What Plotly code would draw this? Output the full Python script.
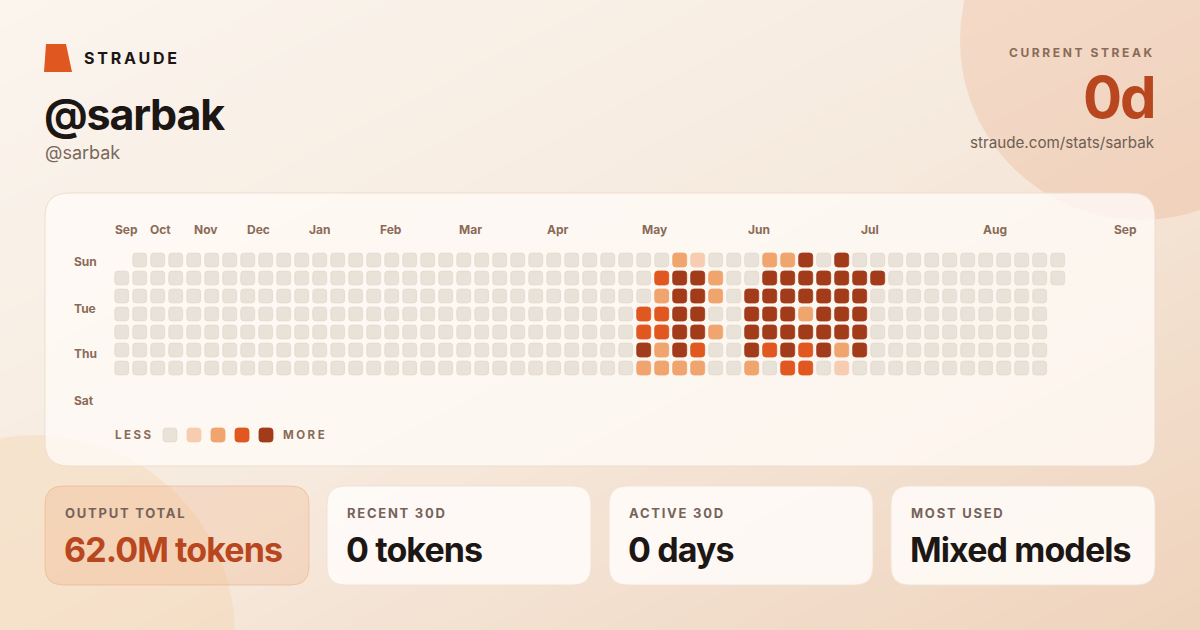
import plotly.graph_objects as go

W, H = 1200, 630

# ---------------- data ----------------
MONTH_LABELS = ["Sep", "Oct", "Nov", "Dec", "Jan", "Feb", "Mar", "Apr", "May", "Jun", "Jul", "Aug", "Sep"]
MONTH_POS = [0.24, 2.16, 4.66, 7.60, 10.99, 14.96, 19.38, 24.24, 29.60, 35.38, 41.55, 48.49, 55.74]
DAY_LABELS = ["Sun", "Tue", "Thu", "Sat"]
DAY_POS = [0.11, 2.67, 5.22, 7.78]

# activity level (0-4) per week column, one list per weekday; None = no day
SUN = [None, 0, 0, 0, 0, 0, 0, 0, 0, 0,
       0, 0, 0, 0, 0, 0, 0, 0, 0, 0,
       0, 0, 0, 0, 0, 0, 0, 0, 0, 0,
       0, 2, 1, 0, 0, 0, 2, 2, 4, 0,
       4, 0, 0, 0, 0, 0, 0, 0, 0, 0,
       0, 0, 0]
MON = [0, 0, 0, 0, 0, 0, 0, 0, 0, 0,
       0, 0, 0, 0, 0, 0, 0, 0, 0, 0,
       0, 0, 0, 0, 0, 0, 0, 0, 0, 0,
       3, 4, 4, 2, 0, 0, 4, 4, 4, 4,
       4, 4, 4, 0, 0, 0, 0, 0, 0, 0,
       0, 0, 0]
TUE = [0, 0, 0, 0, 0, 0, 0, 0, 0, 0,
       0, 0, 0, 0, 0, 0, 0, 0, 0, 0,
       0, 0, 0, 0, 0, 0, 0, 0, 0, 0,
       2, 4, 4, 2, 0, 4, 4, 4, 4, 4,
       4, 4, 0, 0, 0, 0, 0, 0, 0, 0,
       0, 0, None]
WED = [0, 0, 0, 0, 0, 0, 0, 0, 0, 0,
       0, 0, 0, 0, 0, 0, 0, 0, 0, 0,
       0, 0, 0, 0, 0, 0, 0, 0, 0, 3,
       3, 4, 4, 0, 0, 4, 4, 4, 2, 4,
       4, 4, 0, 0, 0, 0, 0, 0, 0, 0,
       0, 0, None]
THU = [0, 0, 0, 0, 0, 0, 0, 0, 0, 0,
       0, 0, 0, 0, 0, 0, 0, 0, 0, 0,
       0, 0, 0, 0, 0, 0, 0, 0, 0, 3,
       3, 4, 4, 2, 0, 4, 4, 4, 4, 4,
       4, 4, 0, 0, 0, 0, 0, 0, 0, 0,
       0, 0, None]
FRI = [0, 0, 0, 0, 0, 0, 0, 0, 0, 0,
       0, 0, 0, 0, 0, 0, 0, 0, 0, 0,
       0, 0, 0, 0, 0, 0, 0, 0, 0, 4,
       2, 4, 3, 0, 0, 4, 3, 4, 3, 4,
       2, 4, 0, 0, 0, 0, 0, 0, 0, 0,
       0, 0, None]
SAT = [0, 0, 0, 0, 0, 0, 0, 0, 0, 0,
       0, 0, 0, 0, 0, 0, 0, 0, 0, 0,
       0, 0, 0, 0, 0, 0, 0, 0, 0, 2,
       2, 2, 2, 0, 0, 2, 0, 3, 3, 0,
       1, 0, 0, 0, 0, 0, 0, 0, 0, 0,
       0, 0, None]
WEEKDAY_ROWS = [SUN, MON, TUE, WED, THU, FRI, SAT]

LEVEL_COLORS = ["#E9E2D8", "#F6CDB0", "#F0A46E", "#E0571F", "#A23B1A"]

STAT_LABELS = ["OUTPUT TOTAL", "RECENT 30D", "ACTIVE 30D", "MOST USED"]
STAT_VALUES = ["62.0M tokens", "0 tokens", "0 days", "Mixed models"]

# ---------------- layout constants ----------------
FONT = "Inter, 'Noto Sans', sans-serif"
COL0_PX, PITCH, ROW0_PY = 121.7, 18.0, 260.0
CELL_HALF = 7.0 / PITCH
CELL_R = 3.2 / PITCH
XR = [-COL0_PX / PITCH, (W - COL0_PX) / PITCH]
YR = [(H - ROW0_PY) / PITCH, -ROW0_PY / PITCH]

INK = "#1C1714"
MUTED = "#8A6B58"
ACCENT = "#B8461F"


def X(px):
    return px / W


def Y(py):
    return 1 - py / H


def rrect_px(x0, y0, x1, y1, r):
    def p(x, y):
        return f"{X(x):.5f},{Y(y):.5f}"
    return (f"M{p(x0 + r, y0)} L{p(x1 - r, y0)} Q{p(x1, y0)} {p(x1, y0 + r)} "
            f"L{p(x1, y1 - r)} Q{p(x1, y1)} {p(x1 - r, y1)} L{p(x0 + r, y1)} "
            f"Q{p(x0, y1)} {p(x0, y1 - r)} L{p(x0, y0 + r)} Q{p(x0, y0)} {p(x0 + r, y0)} Z")


def rrect_data(cx, cy, h, r):
    x0, x1, y0, y1 = cx - h, cx + h, cy - h, cy + h
    def p(x, y):
        return f"{x:.4f},{y:.4f}"
    return (f"M{p(x0 + r, y0)} L{p(x1 - r, y0)} Q{p(x1, y0)} {p(x1, y0 + r)} "
            f"L{p(x1, y1 - r)} Q{p(x1, y1)} {p(x1 - r, y1)} L{p(x0 + r, y1)} "
            f"Q{p(x0, y1)} {p(x0, y1 - r)} L{p(x0, y0 + r)} Q{p(x0, y0)} {p(x0 + r, y0)} Z")


def spaced(t, ls):
    return f'<span style="letter-spacing:{ls}px">{t}</span>'


fig = go.Figure()

# background gradient
fig.add_trace(go.Heatmap(
    x=XR, y=[YR[1], YR[0]], z=[[0, 0.5], [0.5, 1]], zsmooth="best",
    colorscale=[[0, "#FBF5EE"], [0.5, "#F6EADE"], [1, "#EFD3BC"]],
    showscale=False, hoverinfo="skip"))

# hover layer for cells
hx, hy, ht = [], [], []
for r, row in enumerate(WEEKDAY_ROWS):
    for c, v in enumerate(row):
        if v is None:
            continue
        hx.append(c)
        hy.append(r)
        ht.append(f"level {v}")
fig.add_trace(go.Scatter(x=hx, y=hy, mode="markers", text=ht, hoverinfo="text",
                         marker=dict(size=14, symbol="square", opacity=0)))

shapes = []
# decorative circles
shapes.append(dict(type="circle", xref="paper", yref="paper", layer="above",
                   x0=X(1140 - 180), x1=X(1140 + 180), y0=Y(40 + 180), y1=Y(40 - 180),
                   fillcolor="rgba(230,160,120,0.25)", line=dict(width=0)))
shapes.append(dict(type="circle", xref="paper", yref="paper", layer="above",
                   x0=X(35 - 200), x1=X(35 + 200), y0=Y(635 + 200), y1=Y(635 - 200),
                   fillcolor="rgba(245,205,160,0.30)", line=dict(width=0)))
# logo
shapes.append(dict(type="path", xref="paper", yref="paper", layer="above",
                   path=f"M{X(46)},{Y(44)} L{X(66)},{Y(44)} L{X(72)},{Y(72)} L{X(44)},{Y(72)} Z",
                   fillcolor="#E0571F", line=dict(width=0)))
# heatmap panel
shapes.append(dict(type="path", xref="paper", yref="paper", layer="above",
                   path=rrect_px(45, 193, 1155, 466, 24),
                   fillcolor="rgba(255,251,247,0.78)", line=dict(color="rgba(235,220,205,0.9)", width=1)))
# stat cards
card_x = [45, 327, 609, 891]
for i, cx0 in enumerate(card_x):
    if i == 0:
        fc, lc = "rgba(238,160,110,0.22)", "rgba(236,160,115,0.45)"
    else:
        fc, lc = "rgba(255,252,249,0.88)", "rgba(240,226,212,0.9)"
    shapes.append(dict(type="path", xref="paper", yref="paper", layer="above",
                       path=rrect_px(cx0, 486, cx0 + 264, 585, 18),
                       fillcolor=fc, line=dict(color=lc, width=1)))

# heatmap cells
for r, row in enumerate(WEEKDAY_ROWS):
    for c, v in enumerate(row):
        if v is None:
            continue
        shapes.append(dict(type="path", xref="x", yref="y", layer="above",
                           path=rrect_data(c, r, CELL_HALF, CELL_R),
                           fillcolor=LEVEL_COLORS[v],
                           line=dict(color="rgba(214,200,186,0.45)" if v == 0 else LEVEL_COLORS[v], width=0.8)))

# legend squares
for i, col in enumerate(LEVEL_COLORS):
    lx = 170 + 24 * i
    shapes.append(dict(type="path", xref="paper", yref="paper", layer="above",
                       path=rrect_px(lx - 7, 428, lx + 7, 442, 3.2),
                       fillcolor=col, line=dict(color="rgba(214,200,186,0.45)" if i == 0 else col, width=0.8)))

ann = []


def txt(x, y, text, size, color, weight=400, anchor="left", xref="paper", yref="paper"):
    ann.append(dict(x=x, y=y, xref=xref, yref=yref, text=text, showarrow=False,
                    xanchor=anchor, yanchor="middle",
                    font=dict(family=FONT, size=size, color=color, weight=weight)))


# header
txt(X(82), Y(58), spaced("STRAUDE", 2.8), 16, INK, 700)
txt(X(42), Y(114), spaced("@sarbak", -1.2), 43, INK, 700)
txt(X(43), Y(152), "@sarbak", 18, "#7A685C", 400)
txt(X(1157), Y(52), spaced("CURRENT STREAK", 2.6), 12, MUTED, 700, "right")
txt(X(1157), Y(97), spaced("0d", -2), 58, ACCENT, 700, "right")
txt(X(1157), Y(143), "straude.com/stats/sarbak", 15.2, "#6E5E53", 400, "right")

# month and day labels (data coordinates)
for lab, pos in zip(MONTH_LABELS, MONTH_POS):
    txt(pos, (229 - ROW0_PY) / PITCH, lab, 12, MUTED, 700, "center", "x", "y")
for lab, pos in zip(DAY_LABELS, DAY_POS):
    txt((72 - COL0_PX) / PITCH, pos, lab, 12, MUTED, 700, "left", "x", "y")

# legend text
txt(X(113), Y(435), spaced("LESS", 2.5), 11.5, MUTED, 700)
txt(X(281), Y(435), spaced("MORE", 2.5), 11.5, MUTED, 700)

# stat cards text
for i, (lab, val) in enumerate(zip(STAT_LABELS, STAT_VALUES)):
    x0 = card_x[i] + 18
    txt(X(x0), Y(513), spaced(lab, 1.75), 13, "#75635A", 700)
    txt(X(x0 - 1), Y(549), spaced(val, -0.9), 34, ACCENT if i == 0 else INK, 700)

fig.update_layout(
    width=W, height=H, margin=dict(l=0, r=0, t=0, b=0),
    paper_bgcolor="#F7EDE3", plot_bgcolor="#F7EDE3",
    xaxis=dict(range=XR, visible=False, fixedrange=True),
    yaxis=dict(range=YR, visible=False, fixedrange=True),
    showlegend=False, shapes=shapes, annotations=ann,
)

fig.write_html("out.html", config={"displayModeBar": False},
               post_script="document.body.style.margin='0';document.body.style.overflow='hidden';")
